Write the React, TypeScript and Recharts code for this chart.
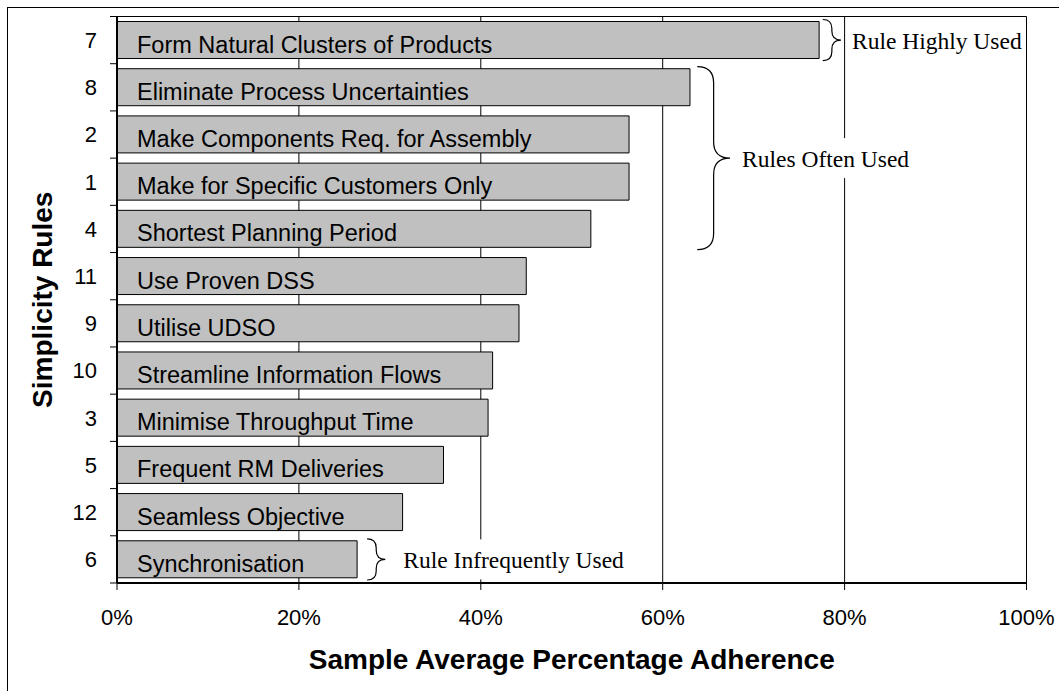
import React from 'react';
import { BarChart, Bar, XAxis, YAxis, CartesianGrid, LabelList, ReferenceArea, Label } from 'recharts';

// ---- data ----
const ruleNumbers = ['7', '8', '2', '1', '4', '11', '9', '10', '3', '5', '12', '6'];
const ruleNames = [
  'Form Natural Clusters of Products',
  'Eliminate Process Uncertainties',
  'Make Components Req. for Assembly',
  'Make for Specific Customers Only',
  'Shortest Planning Period',
  'Use Proven DSS',
  'Utilise UDSO',
  'Streamline Information Flows',
  'Minimise Throughput Time',
  'Frequent RM Deliveries',
  'Seamless Objective',
  'Synchronisation',
];
const adherence = [77.2, 63.0, 56.3, 56.3, 52.1, 45.0, 44.2, 41.3, 40.8, 35.9, 31.4, 26.4];
const xTicks = [0, 20, 40, 60, 80, 100];

const annotationTexts = ['Rule Highly Used', 'Rules Often Used', 'Rule Infrequently Used'];
const annotationFrom = ['7', '8', '6'];
const annotationTo = ['7', '4', '6'];
const braceStart = [77.6, 63.8, 27.5];
const braceEnd = [79.6, 67.4, 29.5];

const xTitle = 'Sample Average Percentage Adherence';
const yTitle = 'Simplicity Rules';

const data = ruleNumbers.map((r, i) => ({ rule: r, name: ruleNames[i], value: adherence[i] }));

// ---- styles ----
const SANS = '"Liberation Sans", Arial, Helvetica, sans-serif';
const SERIF = '"Liberation Serif", "Times New Roman", serif';
const annotationGap = [11, 12, 18];
const Y_AXIS_W = 117;
const MARGIN_TOP = 16.5;
const X_AXIS_H = 108;
const CHART_H = 691;
const PLOT_H = CHART_H - MARGIN_TOP - X_AXIS_H;

function measure(text: string, font: string): number {
  try {
    const c = document.createElement('canvas').getContext('2d');
    if (c) {
      c.font = font;
      return c.measureText(text).width;
    }
  } catch (e) {}
  return text.length * 11;
}

const makeBrace = (text: string, gap: number) => (props: any) => {
  const { x, y, width, height } = props;
  if (x == null || y == null) return null;
  const top = y + 3;
  const bot = y + height - 3;
  const mid = (top + bot) / 2;
  const xs = x + width / 2;
  const xt = x + width;
  const r = Math.min(width / 2, (bot - top) / 4);
  const d = `M ${x} ${top} Q ${xs} ${top} ${xs} ${top + r} L ${xs} ${mid - r} Q ${xs} ${mid} ${xt} ${mid} Q ${xs} ${mid} ${xs} ${mid + r} L ${xs} ${bot - r} Q ${xs} ${bot} ${x} ${bot}`;
  const tx = xt + gap;
  const fontSize = 23.5;
  const tw = measure(text, `${fontSize}px ${SERIF}`);
  return (
    <g>
      <path d={d} fill="none" stroke="#000" strokeWidth={1.2} />
      <rect x={tx - 3} y={mid - 20} width={tw + 5} height={40} fill="#fff" />
      <text x={tx} y={mid + 9} fontFamily={SERIF} fontSize={fontSize} fill="#000">
        {text}
      </text>
    </g>
  );
};

// category label plus tick marks at the band boundaries
const RuleTick = (props: any) => {
  const { x, y, payload, index } = props;
  const half = PLOT_H / ruleNumbers.length / 2;
  const yy = Number(y);
  return (
    <g>
      <text x={x} y={y} dy="0.355em" textAnchor="end" fontFamily={SANS} fontSize={22} fill="#000">
        {payload.value}
      </text>
      {index === 0 && (
        <line x1={Y_AXIS_W - 7} x2={Y_AXIS_W} y1={yy - half} y2={yy - half} stroke="#000" strokeWidth={1} />
      )}
      <line x1={Y_AXIS_W - 7} x2={Y_AXIS_W} y1={yy + half} y2={yy + half} stroke="#000" strokeWidth={1} />
    </g>
  );
};

const BarText = (props: any) => {
  const { x, y, height, value } = props;
  return (
    <text x={x + 20} y={y + height / 2 + 12.5} fontFamily={SANS} fontSize={23.5} fill="#000">
      {value}
    </text>
  );
};

const XTitle = (props: any) => {
  const vb = props.viewBox || {};
  return (
    <text x={vb.x + vb.width / 2} y={vb.y + 86} textAnchor="middle" fontFamily={SANS} fontWeight="bold" fontSize={28} fill="#000">
      {xTitle}
    </text>
  );
};

const YTitle = (props: any) => {
  const vb = props.viewBox || {};
  const cx = 51.7;
  const cy = vb.y + vb.height / 2;
  return (
    <text x={cx} y={cy} transform={`rotate(-90, ${cx}, ${cy})`} textAnchor="middle" fontFamily={SANS} fontWeight="bold" fontSize={28} fill="#000">
      {yTitle}
    </text>
  );
};

export default function App() {
  return (
    <div style={{ position: 'absolute', left: 0, top: 0, width: 1059, height: 691, overflow: 'hidden', background: '#fff' }}>
      <div
        style={{
          position: 'absolute',
          left: 7,
          top: 7,
          width: 1200,
          height: 800,
          borderLeft: '1.3px solid #000',
          borderTop: '1.3px solid #000',
        }}
      />
      <div style={{ position: 'absolute', left: 0, top: 0 }}>
        <BarChart
          width={1059}
          height={CHART_H}
          data={data}
          layout="vertical"
          margin={{ top: MARGIN_TOP, right: 32.5, left: 0, bottom: 0 }}
          barSize={37}
        >
          <CartesianGrid
            vertical={true}
            horizontal={true}
            stroke="#000"
            strokeWidth={1}
            horizontalCoordinatesGenerator={(p: any) => [p.offset.top]}
          />
          <XAxis
            type="number"
            domain={[0, 100]}
            ticks={xTicks}
            interval={0}
            tickFormatter={(v: number) => `${v}%`}
            height={X_AXIS_H}
            tickSize={7}
            tickMargin={19}
            axisLine={{ stroke: '#000', strokeWidth: 2 }}
            tickLine={{ stroke: '#000', strokeWidth: 1 }}
            tick={{ fontFamily: SANS, fontSize: 22, fill: '#000' }}
          >
            <Label content={XTitle} />
          </XAxis>
          <YAxis
            type="category"
            dataKey="rule"
            width={Y_AXIS_W}
            interval={0}
            tickSize={7}
            tickMargin={13}
            tickLine={false}
            axisLine={{ stroke: '#000', strokeWidth: 2 }}
            tick={RuleTick}
          >
            <Label content={YTitle} />
          </YAxis>
          <Bar dataKey="value" fill="#c0c0c0" stroke="#000" strokeWidth={1} isAnimationActive={false}>
            <LabelList dataKey="name" content={BarText} />
          </Bar>
          {annotationTexts.map((t, i) => (
            <ReferenceArea
              key={t}
              x1={braceStart[i]}
              x2={braceEnd[i]}
              y1={annotationFrom[i]}
              y2={annotationTo[i]}
              ifOverflow="visible"
              shape={makeBrace(t, annotationGap[i])}
            />
          ))}
        </BarChart>
      </div>
    </div>
  );
}
